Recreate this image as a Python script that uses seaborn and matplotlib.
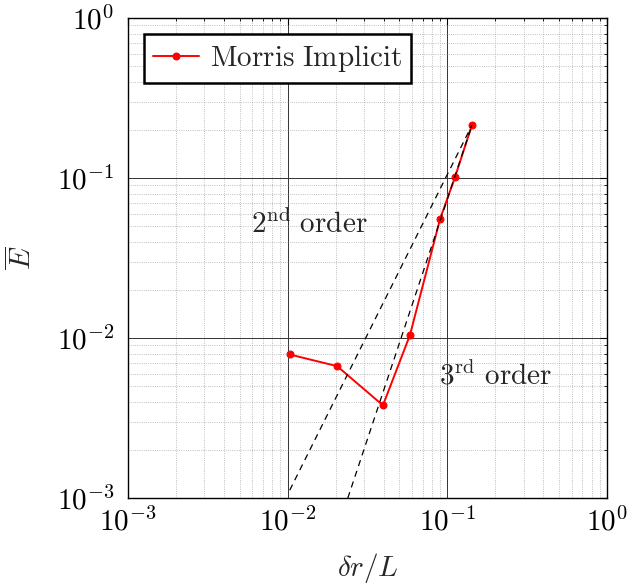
import numpy as np
import pandas as pd
import seaborn as sns
import matplotlib
matplotlib.use("Agg")
import matplotlib.pyplot as plt
from matplotlib.ticker import LogLocator, NullFormatter, FuncFormatter

# data
dr = [0.0103, 0.0204, 0.0395, 0.0583, 0.090, 0.1117, 0.1426]
err = [0.0079, 0.00668, 0.0038, 0.01044, 0.0554, 0.1015, 0.2145]

# reference slope lines (2nd and 3rd order)
ref2_x = [0.0103, 0.1426]
ref2_y = [0.00112, 0.2145]
ref3_x = [0.0238, 0.1426]
ref3_y = [0.0010, 0.2145]

sns.set_style("white")
plt.rcParams["mathtext.fontset"] = "cm"
plt.rcParams["font.family"] = ["DejaVu Serif"]
plt.rcParams["axes.unicode_minus"] = False

fs = 21

df = pd.DataFrame({"dr": dr, "err": err})

fig = plt.figure(figsize=(6.28, 5.86), dpi=100)
ax = fig.add_axes([0.2038, 0.150, 0.7628, 0.819])

ax.set_xscale("log")
ax.set_yscale("log")

sns.lineplot(data=df, x="dr", y="err", ax=ax, color="red", marker="o",
             markersize=5, markeredgecolor="red", linewidth=1.4,
             label=r"$\mathrm{Morris\ Implicit}$", sort=False)

ax.plot(ref2_x, ref2_y, color="black", linestyle=(0, (5, 4)), linewidth=0.9)
ax.plot(ref3_x, ref3_y, color="black", linestyle=(0, (5, 4)), linewidth=0.9)

ax.set_xlim(1e-3, 1)
ax.set_ylim(1e-3, 1)

ax.xaxis.set_major_locator(LogLocator(base=10, numticks=10))
ax.yaxis.set_major_locator(LogLocator(base=10, numticks=10))
ax.xaxis.set_minor_locator(LogLocator(base=10, subs=np.arange(2, 10), numticks=20))
ax.yaxis.set_minor_locator(LogLocator(base=10, subs=np.arange(2, 10), numticks=20))
pow_fmt = FuncFormatter(lambda v, p: r"$10^{%d}$" % int(round(np.log10(v))))
ax.xaxis.set_major_formatter(pow_fmt)
ax.yaxis.set_major_formatter(pow_fmt)
ax.xaxis.set_minor_formatter(NullFormatter())
ax.yaxis.set_minor_formatter(NullFormatter())

ax.grid(True, which="major", color="#333333", linewidth=0.7, linestyle="-")
ax.grid(True, which="minor", color="#aaaaaa", linewidth=0.6, linestyle=":")
ax.set_axisbelow(True)

ax.tick_params(which="both", direction="in", top=True, right=True,
               labelsize=fs, colors="black")
ax.tick_params(which="major", length=5, width=0.8)
ax.tick_params(axis="y", which="major", pad=10)
ax.tick_params(axis="x", which="major", pad=7)
ax.tick_params(which="minor", length=2.5, width=0.6)

for s in ax.spines.values():
    s.set_color("black")
    s.set_linewidth(1.0)

ax.set_xlabel(r"$\delta r/L$", fontsize=fs, labelpad=10)
ax.set_ylabel(r"$\overline{E}$", fontsize=fs, labelpad=14)

ax.text(0.0059, 0.052, r"$2^{\mathrm{nd}}\ \mathrm{order}$", fontsize=fs,
        ha="left", va="center")
ax.text(0.089, 0.0058, r"$3^{\mathrm{rd}}\ \mathrm{order}$", fontsize=fs,
        ha="left", va="center")

leg = ax.legend(loc="upper left", fontsize=fs, frameon=True, fancybox=False,
                borderaxespad=0.55, handlelength=1.6, borderpad=0.3,
                handletextpad=0.35)
leg.get_frame().set_edgecolor("black")
leg.get_frame().set_linewidth(1.8)
leg.get_frame().set_alpha(1)

fig.savefig("out.png", dpi=100)
